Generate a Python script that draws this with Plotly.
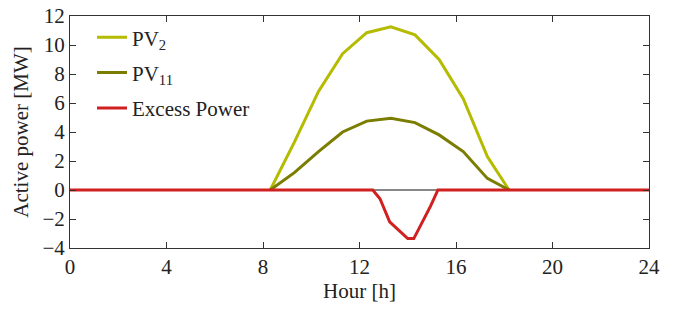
import plotly.graph_objects as go

hours_pv = [8.3, 9.3, 10.3, 11.3, 12.3, 13.3, 14.3, 15.3, 16.3, 17.3, 18.2]
pv2 = [0, 3.3, 6.8, 9.4, 10.85, 11.25, 10.7, 9.0, 6.3, 2.3, 0]
pv11 = [0, 1.2, 2.65, 4.0, 4.75, 4.95, 4.65, 3.8, 2.65, 0.8, 0]

hours_ex = [0, 12.55, 12.85, 13.25, 14.0, 14.25, 14.95, 15.25, 24]
excess = [0, 0, -0.6, -2.2, -3.35, -3.35, -1.1, 0, 0]

x_ticks = [0, 4, 8, 12, 16, 20, 24]
y_ticks = [-4, -2, 0, 2, 4, 6, 8, 10, 12]

FONT = "Liberation Serif, Times New Roman, serif"

fig = go.Figure()
fig.add_trace(go.Scatter(x=[0, 24], y=[0, 0], mode="lines",
                         line=dict(color="#111111", width=1), showlegend=False, hoverinfo="skip"))
fig.add_trace(go.Scatter(x=hours_pv, y=pv2, mode="lines", name="PV<sub>2</sub>", legendgroup="a",
                         line=dict(color="#b4bb00", width=3)))
fig.add_trace(go.Scatter(x=hours_pv, y=pv11, mode="lines", name="PV<sub>11</sub>", legendgroup="b",
                         line=dict(color="#7a7d00", width=3)))
fig.add_trace(go.Scatter(x=hours_ex, y=excess, mode="lines", name="Excess Power", legendgroup="c",
                         line=dict(color="#d0201f", width=3)))

axis_common = dict(showline=True, linecolor="#333333", linewidth=1, mirror="ticks",
                   ticks="inside", ticklen=6, tickcolor="#333333", showgrid=False,
                   zeroline=False, automargin=False,
                   tickfont=dict(family=FONT, size=21, color="#222222"))

fig.update_layout(
    width=676, height=309,
    margin=dict(l=70, r=27, t=16, b=61),
    paper_bgcolor="white", plot_bgcolor="white",
    font=dict(family=FONT, color="#222222"),
    xaxis=dict(range=[0, 24], tickvals=x_ticks,
               title=dict(text="Hour [h]", font=dict(family=FONT, size=21), standoff=3),
               **axis_common),
    yaxis=dict(range=[-4, 12], tickvals=y_ticks,
               title=dict(text="Active power [MW]", font=dict(family=FONT, size=21), standoff=8),
               **axis_common),
    legend=dict(x=0.038, y=0.995, xanchor="left", yanchor="top",
                font=dict(family=FONT, size=21, color="#222222"),
                bgcolor="rgba(0,0,0,0)", tracegroupgap=5, itemwidth=30),
)

fig.write_html("out.html", config={"displayModeBar": False},
               post_script="document.body.style.margin='0';document.body.style.overflow='hidden';")
